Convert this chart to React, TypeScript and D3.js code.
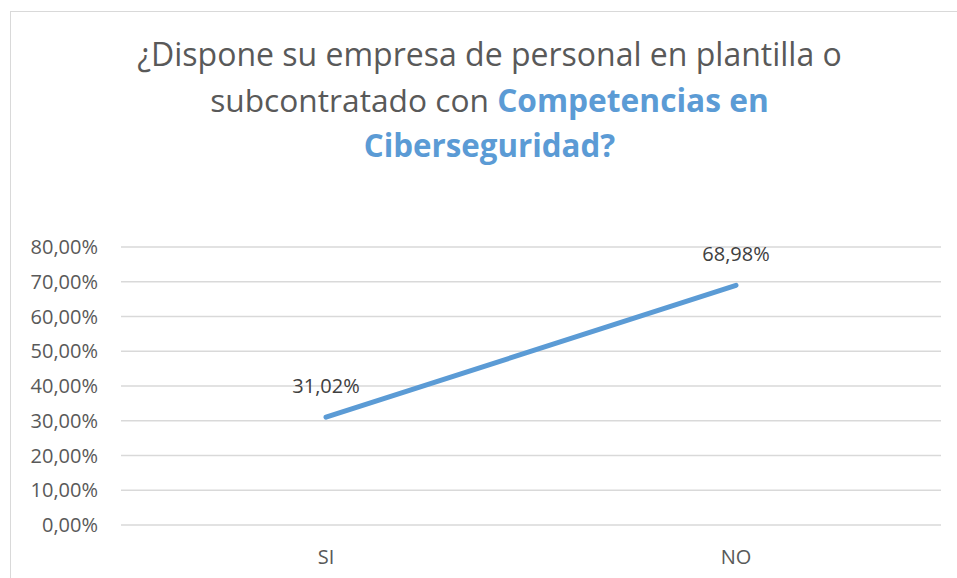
import React from "react";
import * as d3 from "d3";

const categories = ["SI", "NO"];
const values = [31.02, 68.98];
const yTicks = [0, 10, 20, 30, 40, 50, 60, 70, 80];
const titleLine1 = "¿Dispone su empresa de personal en plantilla o";
const titleLine2Plain = "subcontratado con ";
const titleLine2Bold = "Competencias en";
const titleLine3Bold = "Ciberseguridad?";

const W = 957;
const H = 578;
const FONT = "'Open Sans', 'Noto Sans', sans-serif";
const GREY = "#595959";
const BLUE = "#5B9BD5";

export default function App() {
  const x = d3.scalePoint<string>().domain(categories).range([121, 941]).padding(0.5);
  const y = d3.scaleLinear().domain([0, 80]).range([525, 247]);
  const fmt = (v: number) => v.toFixed(2).replace(".", ",") + "%";
  const line = d3
    .line<number>()
    .x((_, i) => x(categories[i]) as number)
    .y((d) => y(d));

  return (
    <svg
      width={W}
      height={H}
      style={{ position: "absolute", left: 0, top: 0, background: "#fff" }}
      fontFamily={FONT}
    >
      <rect x={10.5} y={11.5} width={W + 10} height={H + 10} fill="#fff" stroke="#D9D9D9" strokeWidth={1} />
      <g textAnchor="middle" fill={GREY}>
        <text x={489.5} y={66} fontSize={32}>{titleLine1}</text>
        <text x={489.5} y={112} fontSize={31.7}>
          <tspan>{titleLine2Plain}</tspan>
          <tspan fill={BLUE} fontWeight="bold">{titleLine2Bold}</tspan>
        </text>
        <text x={489.5} y={157} fontSize={31.3} fill={BLUE} fontWeight="bold">{titleLine3Bold}</text>
      </g>
      <g>
        {yTicks.map((t) => (
          <g key={t}>
            <line x1={121} x2={941} y1={y(t)} y2={y(t)} stroke="#D9D9D9" strokeWidth={1.3} />
            <text x={98} y={y(t) + 7} textAnchor="end" fontSize={20} fill={GREY}>
              {fmt(t)}
            </text>
          </g>
        ))}
      </g>
      <g>
        {categories.map((c) => (
          <text key={c} x={x(c)} y={564} textAnchor="middle" fontSize={20} fill={GREY}>
            {c}
          </text>
        ))}
      </g>
      <path d={line(values) || ""} fill="none" stroke={BLUE} strokeWidth={5} strokeLinecap="round" />
      <g>
        {values.map((v, i) => (
          <text key={i} x={x(categories[i])} y={y(v) - 24} textAnchor="middle" fontSize={20} fill="#404040">
            {fmt(v)}
          </text>
        ))}
      </g>
    </svg>
  );
}
